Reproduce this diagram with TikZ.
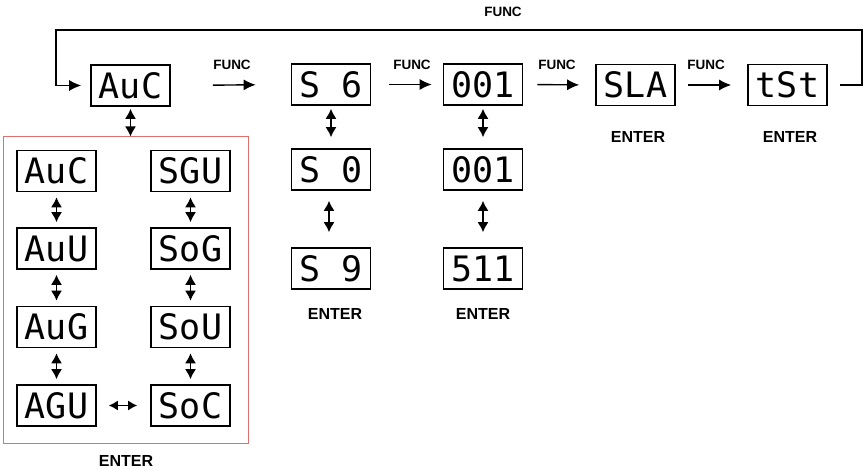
\documentclass[tikz,border=0pt]{standalone}
\usepackage{fontspec}
\setmainfont{Liberation Sans}
\newfontfamily\segfont{DejaVu Sans Mono}
\usetikzlibrary{arrows.meta}
\definecolor{framered}{RGB}{222,112,112}
\begin{document}
\begin{tikzpicture}[x=1pt,y=-1pt,
  disp/.style={draw,line width=1.6pt,minimum width=79pt,minimum height=41pt,inner sep=0pt,
     font=\segfont\fontsize{35}{35}\selectfont},
  lbl/.style={font=\bfseries\fontsize{13.5}{13.5}\selectfont},
  ent/.style={font=\bfseries\fontsize{16}{16}\selectfont},
  arr/.style={line width=1.4pt,-{Latex[length=12pt,width=11pt]}},
  dbl/.style={line width=1.4pt,{Latex[length=10pt,width=11pt]}-{Latex[length=10pt,width=11pt]}},
  dblh/.style={line width=1.4pt,{Latex[length=9pt,width=10pt]}-{Latex[length=9pt,width=10pt]}}]
\useasboundingbox (0,0) rectangle (863,470);
% top row
\node[disp] (auc) at (130.5,85.5) {AuC};
\node[disp] (s6) at (331,84.5) {S 6};
\node[disp] (a1) at (483,84.5) {001};
\node[disp] (sla) at (635.5,85) {SLA};
\node[disp] (tst) at (787.5,85) {tSt};
% second column
\node[disp] (s0) at (331,169.5) {S 0};
\node[disp] (s9) at (331,268.5) {S 9};
% third column
\node[disp] (a2) at (483,169.5) {001};
\node[disp] (a3) at (483,268.5) {511};
% red frame
\node[draw=framered,line width=1pt,minimum width=245pt,minimum height=307pt,inner sep=0pt] (frame) at (125.5,290.5) {};
\node[disp] (l1) at (56.5,171) {AuC};
\node[disp] (l2) at (56.5,248.5) {AuU};
\node[disp] (l3) at (56.5,327) {AuG};
\node[disp] (l4) at (56.5,405.5) {AGU};
\node[disp] (r1) at (190.5,171) {SGU};
\node[disp] (r2) at (190.5,248.5) {SoG};
\node[disp] (r3) at (190.5,327) {SoU};
\node[disp] (r4) at (190.5,405.5) {SoC};
% labels
\node[lbl] (f0) at (503,12) {FUNC};
\node[lbl] (f1) at (232,65) {FUNC};
\node[lbl] (f2) at (412,65) {FUNC};
\node[lbl] (f3) at (557,65) {FUNC};
\node[lbl] (f4) at (706,65) {FUNC};
\node[ent] (e1) at (638,137) {ENTER};
\node[ent] (e2) at (790,137) {ENTER};
\node[ent] (e3) at (335,314) {ENTER};
\node[ent] (e4) at (483,314) {ENTER};
\node[ent] (e5) at (126,461) {ENTER};
% horizontal FUNC arrows
\draw[arr,shorten <=42pt,shorten >=35pt] (auc.east) -- (s6.west);
\draw[arr,shorten <=18pt,shorten >=11pt] (s6.east) -- (a1.west);
\draw[arr,shorten <=14pt,shorten >=16pt] (a1.east) -- (sla.west);
\draw[arr,shorten <=12pt,shorten >=16pt] (sla.east) -- (tst.west);
% loop
\coordinate (loopR) at (862,30);
\coordinate (loopL) at (56,30);
\draw[arr,shorten <=12pt,shorten >=9pt] (tst.east) -| (loopR) -- (loopL) |- (auc.west);
% vertical double arrows
\draw[dbl,shorten <=2pt] (auc.south) -- (auc.south |- frame.north);
\draw[dbl,shorten <=3pt,shorten >=11pt] (s6.south) -- (s0.north);
\draw[dbl,shorten <=10pt,shorten >=15pt] ([xshift=-2pt]s0.south) -- ([xshift=-2pt]s9.north);
\draw[dbl,shorten <=3pt,shorten >=11pt] (a1.south) -- (a2.north);
\draw[dbl,shorten <=10pt,shorten >=15pt] (a2.south) -- (a3.north);
\foreach \a/\b in {l1/l2,l2/l3,l3/l4,r1/r2,r2/r3,r3/r4}
  \draw[dbl,shorten <=5pt,shorten >=5pt] (\a.south) -- (\b.north);
\draw[dblh,shorten <=12pt,shorten >=13pt] (l4.east) -- (r4.west);
\end{tikzpicture}
\end{document}
